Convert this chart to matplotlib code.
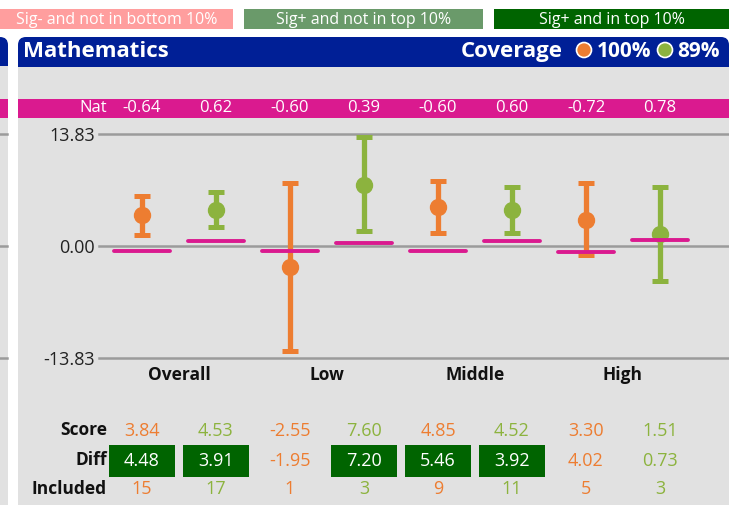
import matplotlib.pyplot as plt
from matplotlib.patches import Rectangle, FancyBboxPatch, Circle
from matplotlib.transforms import blended_transform_factory

# ========== DATA ==========
categories = ["Overall", "Low", "Middle", "High"]
nat = [-0.64, 0.62, -0.60, 0.39, -0.60, 0.60, -0.72, 0.78]
score = [3.84, 4.53, -2.55, 7.60, 4.85, 4.52, 3.30, 1.51]
upper = [6.25, 6.74, 7.78, 13.46, 8.03, 7.29, 7.78, 7.29]
lower = [1.40, 2.38, -12.93, 1.85, 1.60, 1.60, -1.07, -4.32]
diff = ["4.48", "3.91", "-1.95", "7.20", "5.46", "3.92", "4.02", "0.73"]
diff_top10 = [True, True, False, True, True, True, False, False]
included = [15, 17, 1, 3, 9, 11, 5, 3]
score_labels = ["3.84", "4.53", "-2.55", "7.60", "4.85", "4.52", "3.30", "1.51"]
nat_labels = ["-0.64", "0.62", "-0.60", "0.39", "-0.60", "0.60", "-0.72", "0.78"]
yticks = [-13.83, 0.0, 13.83]
coverage = ["100%", "89%"]
legend_labels = ["Sig- and not in bottom 10%", "Sig+ and not in top 10%", "Sig+ and in top 10%"]

ORANGE = "#ED7D31"
GREEN = "#8CB33E"
MAGENTA = "#DA1A8F"
BLUE = "#001F96"
PANEL = "#E1E1E1"
GRID = "#9B9B9B"
DKGREEN = "#006400"
legend_colors = ["#FF9E9E", "#6A9A6A", DKGREEN]
series_colors = [ORANGE, GREEN] * 4

plt.rcParams["font.family"] = ["Open Sans", "DejaVu Sans"]

W, H = 729, 505
fig = plt.figure(figsize=(W / 100, H / 100), dpi=100)
fig.patch.set_facecolor("white")

# background layer in pixel coords
bg = fig.add_axes([0, 0, 1, 1])
bg.set_xlim(0, W)
bg.set_ylim(H, 0)
bg.axis("off")

# legend boxes
legend_x = [(0, 233), (244, 483), (494, 729)]
for (x0, x1), lab, col in zip(legend_x, legend_labels, legend_colors):
    bg.add_patch(Rectangle((x0, 9), x1 - x0, 20, color=col, lw=0))
    bg.text((x0 + x1) / 2, 19.5, lab, color="white", ha="center", va="center",
            fontsize=11.5)

# left neighbour panel (cut off)
bg.add_patch(FancyBboxPatch((-30, 37), 38, 60, boxstyle="round,pad=0,rounding_size=8",
                            color=BLUE, lw=0))
bg.add_patch(Rectangle((0, 66), 8, H - 66, color=PANEL, lw=0))
bg.add_patch(Rectangle((0, 99), 8, 19, color=MAGENTA, lw=0))
for yy in (134.3, 246.3, 358.3):
    bg.plot([0, 7], [yy, yy], color=GRID, lw=1.8)

# main panel
bg.add_patch(FancyBboxPatch((18, 37), W - 18, 60, boxstyle="round,pad=0,rounding_size=8",
                            color=BLUE, lw=0))
bg.add_patch(Rectangle((18, 66.5), W - 18, H - 66.5, color=PANEL, lw=0))
bg.add_patch(Rectangle((18, 99), W - 18, 19, color=MAGENTA, lw=0))

bg.text(23, 51.5, "Mathematics", color="white", fontsize=16, fontweight="bold",
        ha="left", va="center")
bg.text(563, 51.5, "Coverage", color="white", fontsize=16, fontweight="bold",
        ha="right", va="center")
bg.add_patch(Circle((584, 50), 7.5, facecolor=ORANGE, edgecolor="white", lw=1.2))
bg.text(597, 51.5, coverage[0], color="white", fontsize=15, fontweight="bold",
        ha="left", va="center")
bg.add_patch(Circle((665, 50), 7.5, facecolor=GREEN, edgecolor="white", lw=1.2))
bg.text(677, 51.5, coverage[1], color="white", fontsize=15, fontweight="bold",
        ha="left", va="center")

# ========== DATA AXES ==========
ax = fig.add_axes([99 / W, (H - 358.3) / H, 630 / W, 224 / H])
ax.patch.set_alpha(0)
for s in ax.spines.values():
    s.set_visible(False)
ax.set_xlim(-(142 - 99) / 74, (729 - 142) / 74)
ax.set_ylim(yticks[0], yticks[-1])
ax.set_xticks([])
ax.set_yticks(yticks)
ax.set_yticklabels([f"{v:.2f}" for v in yticks], fontsize=13, color="#222222")
ax.tick_params(axis="y", length=0, pad=3)
for v in yticks:
    ax.axhline(v, color=GRID, lw=1.8, clip_on=False, zorder=1)

xs = list(range(len(score)))
for i in xs:
    ax.errorbar(xs[i], score[i],
                yerr=[[score[i] - lower[i]], [upper[i] - score[i]]],
                fmt="o", color=series_colors[i], ms=11.5, elinewidth=3.8,
                capsize=5.5, capthick=3.6, clip_on=False, zorder=3)
ax.hlines(nat, [x - 0.38 for x in xs], [x + 0.38 for x in xs], color=MAGENTA,
          lw=2.8, capstyle="round", zorder=4, clip_on=False)

tr = blended_transform_factory(ax.transData, bg.transData)

for k, cat in enumerate(categories):
    ax.text(2 * k + 0.5, 375, cat, transform=tr, ha="center", va="center",
            fontsize=12.5, fontweight="bold", color="#111111")

# Nat row
bg.text(107, 108.5, "Nat", color="white", ha="right", va="center", fontsize=12)
for i in xs:
    ax.text(xs[i], 108.5, nat_labels[i], transform=tr, color="white", ha="center",
            va="center", fontsize=12)

# table rows
for lab, yy in (("Score", 430), ("Diff", 460), ("Included", 489)):
    bg.text(107, yy, lab, ha="right", va="center", fontsize=12.5, fontweight="bold",
            color="#111111")

for i in xs:
    ax.text(xs[i], 430.5, score_labels[i], transform=tr, color=series_colors[i],
            ha="center", va="center", fontsize=13)
    if diff_top10[i]:
        ax.add_patch(Rectangle((xs[i] - 0.45, 444.5), 0.9, 32, transform=tr,
                               color=DKGREEN, lw=0, clip_on=False))
        dcol = "white"
    else:
        dcol = series_colors[i]
    ax.text(xs[i], 460.5, diff[i], transform=tr, color=dcol, ha="center",
            va="center", fontsize=13)
    ax.text(xs[i], 489.5, str(included[i]), transform=tr, color=series_colors[i],
            ha="center", va="center", fontsize=13)

plt.savefig("out.png", dpi=100)
plt.close()
